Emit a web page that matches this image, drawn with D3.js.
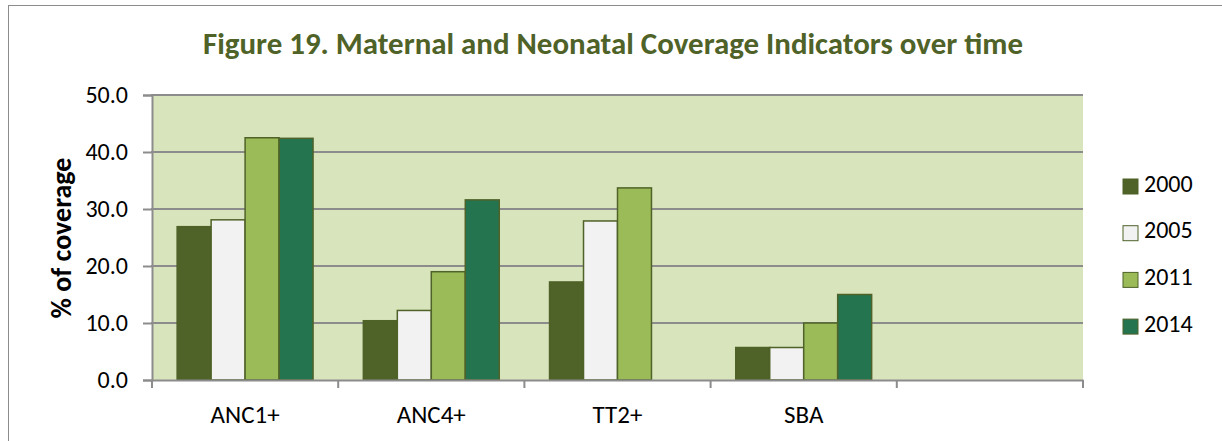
<!DOCTYPE html>
<html>
<head>
<meta charset="utf-8">
<script src="https://cdn.jsdelivr.net/npm/d3@7"></script>
<style>
  body { margin: 0; background: #fff; }
  text { font-family: Carlito, Lato, "Open Sans", sans-serif; }
</style>
</head>
<body>
<script>
// data
var categories = ["ANC1+", "ANC4+", "TT2+", "SBA", ""];
var years = ["2000", "2005", "2011", "2014"];
var v2000 = [26.9, 10.4, 17.2, 5.7, null];
var v2005 = [28.1, 12.2, 27.9, 5.7, null];
var v2011 = [42.5, 19.0, 33.7, 10.0, null];
var v2014 = [42.4, 31.6, null, 15.0, null];
var yTicks = [0, 10, 20, 30, 40, 50];

var colors = ["#4f6228", "#f2f2f2", "#9bbb59", "#247450"];
var seriesValues = [v2000, v2005, v2011, v2014];

var W = 1222, H = 441;
var plot = { left: 152, right: 1083, top: 95, bottom: 380 };

var svg = d3.select("body").append("svg")
    .attr("width", W)
    .attr("height", H);

// chart area border
svg.append("rect")
    .attr("x", 8.5).attr("y", 5.5)
    .attr("width", W + 10).attr("height", H + 10)
    .attr("fill", "none")
    .attr("stroke", "#8c8c8c")
    .attr("stroke-width", 1);

// title
svg.append("text")
    .attr("x", 203)
    .attr("y", 53.5)
    .attr("textLength", 820)
    .attr("lengthAdjust", "spacingAndGlyphs")
    .attr("fill", "#4f6228")
    .style("font-weight", "bold")
    .style("font-size", "30px")
    .text("Figure 19. Maternal and Neonatal Coverage Indicators over time");

var x0 = d3.scaleBand()
    .domain(categories.map(function(d, i) { return i; }))
    .range([plot.left, plot.right])
    .paddingInner(0)
    .paddingOuter(0);

var x1 = d3.scaleBand()
    .domain(years)
    .range([0, x0.bandwidth()])
    .paddingOuter(0.74)
    .paddingInner(0);

var y = d3.scaleLinear()
    .domain([0, 50])
    .range([plot.bottom, plot.top]);

// plot background
svg.append("rect")
    .attr("x", plot.left).attr("y", plot.top)
    .attr("width", plot.right - plot.left)
    .attr("height", plot.bottom - plot.top)
    .attr("fill", "#d8e4bc");

// gridlines
svg.append("g")
  .selectAll("line")
  .data(yTicks.filter(function(t) { return t > 0; }))
  .enter().append("line")
    .attr("x1", plot.left - 1).attr("x2", plot.right)
    .attr("y1", function(d) { return y(d); })
    .attr("y2", function(d) { return y(d); })
    .attr("stroke", "#8c8c8c")
    .attr("stroke-width", 2);

// bars
var groups = svg.append("g")
  .selectAll("g")
  .data(years)
  .enter().append("g");

groups.selectAll("rect")
  .data(function(yr, s) {
    return seriesValues[s].map(function(v, i) { return { i: i, v: v, s: s, yr: yr }; })
      .filter(function(d) { return d.v !== null; });
  })
  .enter().append("rect")
    .attr("x", function(d) { return x0(d.i) + x1(d.yr); })
    .attr("y", function(d) { return y(d.v); })
    .attr("width", x1.bandwidth())
    .attr("height", function(d) { return y(0) - y(d.v); })
    .attr("fill", function(d) { return colors[d.s]; })
    .attr("stroke", "#4f6228")
    .attr("stroke-width", 1.5);

// y axis
var yAxis = svg.append("g")
    .attr("transform", "translate(" + plot.left + ",0)")
    .call(d3.axisLeft(y).tickValues(yTicks).tickFormat(d3.format(".1f")).tickSize(9).tickPadding(15));
yAxis.select(".domain").attr("stroke", "#8c8c8c").attr("stroke-width", 2);
yAxis.selectAll(".tick line").attr("stroke", "#8c8c8c").attr("stroke-width", 2);
yAxis.selectAll("text")
    .style("font-family", "Carlito, Lato, 'Open Sans', sans-serif")
    .style("font-size", "24px")
    .attr("fill", "#000");

// x axis
var xAxis = svg.append("g")
    .attr("transform", "translate(0," + plot.bottom + ")")
    .call(d3.axisBottom(x0).tickSize(0).tickFormat(function(i) { return categories[i]; }).tickPadding(25));
xAxis.select(".domain").attr("stroke", "#8c8c8c").attr("stroke-width", 2);
xAxis.selectAll("text")
    .style("font-family", "Carlito, Lato, 'Open Sans', sans-serif")
    .style("font-size", "25px")
    .attr("fill", "#000");
xAxis.selectAll(".sep")
  .data(d3.range(categories.length + 1))
  .enter().append("line")
    .attr("class", "sep")
    .attr("x1", function(k) { return plot.left + k * x0.bandwidth(); })
    .attr("x2", function(k) { return plot.left + k * x0.bandwidth(); })
    .attr("y1", 0).attr("y2", 8)
    .attr("stroke", "#8c8c8c")
    .attr("stroke-width", 2);

// y axis title
svg.append("text")
    .attr("transform", "translate(71,238) rotate(-90)")
    .attr("text-anchor", "middle")
    .style("font-weight", "bold")
    .style("font-size", "28px")
    .text("% of coverage");

// legend
var legend = svg.append("g")
  .selectAll("g")
  .data(years)
  .enter().append("g")
    .attr("transform", function(d, i) { return "translate(1123," + (186.5 + i * 46.7) + ")"; });

legend.append("rect")
    .attr("x", 0).attr("y", -7.5)
    .attr("width", 15).attr("height", 15)
    .attr("fill", function(d, i) { return colors[i]; })
    .attr("stroke", "#4f6228")
    .attr("stroke-width", 1);

legend.append("text")
    .attr("x", 21)
    .attr("y", 5)
    .style("font-size", "24px")
    .text(function(d) { return d; });
</script>
</body>
</html>
